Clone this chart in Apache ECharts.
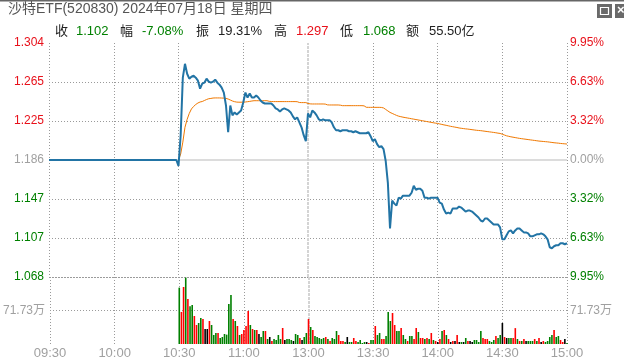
<!DOCTYPE html>
<html><head><meta charset="utf-8">
<script src="https://cdn.jsdelivr.net/npm/echarts@6/dist/echarts.min.js"></script>
<style>html,body{margin:0;padding:0;background:#fff}#c{width:624px;height:362px}</style>
</head><body><div id="c"></div>
<script>
// ---------------- data ----------------
const preClose = 1.186;
const limitPct = 9.95;
const volMax = 143.46;      // 万
const volMid = 71.73;       // 万
const sessionAMStart = '09:30', sessionPMStart = '13:00';
const timeLabels = ['09:30','10:00','10:30','11:00','13:00','13:30','14:00','14:30','15:00'];

// minute prices 09:30 - 11:29 (trading halted until 10:30)
const priceAM = [
 1.186,1.186,1.186,1.186,1.186,1.186,1.186,1.186,1.186,1.186,
 1.186,1.186,1.186,1.186,1.186,1.186,1.186,1.186,1.186,1.186,
 1.186,1.186,1.186,1.186,1.186,1.186,1.186,1.186,1.186,1.186,
 1.186,1.186,1.186,1.186,1.186,1.186,1.186,1.186,1.186,1.186,
 1.186,1.186,1.186,1.186,1.186,1.186,1.186,1.186,1.186,1.186,
 1.186,1.186,1.186,1.186,1.186,1.186,1.186,1.186,1.186,1.186,
 1.180,1.211,1.269,1.283,1.273,1.268,1.270,1.271,1.269,1.266,
 1.258,1.263,1.264,1.268,1.265,1.264,1.265,1.267,1.264,1.262,
 1.259,1.254,1.241,1.214,1.241,1.231,1.234,1.232,1.234,1.236,
 1.244,1.254,1.249,1.253,1.249,1.249,1.251,1.249,1.246,1.244,
 1.243,1.243,1.243,1.243,1.241,1.238,1.237,1.235,1.237,1.238,
 1.237,1.236,1.234,1.230,1.227,1.229,1.224,1.219,1.211,1.205
];
// minute prices 13:00 - 15:00
const pricePM = [
 1.233,1.229,1.236,1.234,1.231,1.227,1.226,1.227,1.226,1.226,
 1.226,1.224,1.219,1.216,1.216,1.215,1.216,1.216,1.216,1.215,
 1.215,1.214,1.215,1.214,1.213,1.213,1.213,1.213,1.214,1.210,
 1.205,1.207,1.202,1.199,1.200,1.197,1.185,1.163,1.117,1.145,
 1.142,1.140,1.148,1.147,1.150,1.150,1.150,1.150,1.153,1.160,
 1.156,1.157,1.157,1.155,1.148,1.148,1.147,1.148,1.148,1.148,
 1.148,1.143,1.142,1.136,1.132,1.133,1.132,1.137,1.137,1.137,
 1.139,1.138,1.136,1.134,1.135,1.135,1.134,1.132,1.130,1.128,
 1.125,1.124,1.127,1.127,1.125,1.123,1.121,1.121,1.121,1.118,
 1.106,1.106,1.110,1.114,1.115,1.112,1.115,1.117,1.117,1.115,
 1.113,1.113,1.112,1.109,1.109,1.110,1.111,1.111,1.112,1.111,
 1.109,1.106,1.098,1.097,1.099,1.100,1.100,1.102,1.102,1.101,
 1.102
];
// average price line from 10:30 to 15:00
const avgPrice = [
 1.1860,1.1920,1.2040,1.2190,1.2270,1.2330,1.2375,1.2400,1.2420,1.2435,
 1.2445,1.2450,1.2460,1.2470,1.2478,1.2481,1.2485,1.2486,1.2486,1.2486,
 1.2485,1.2484,1.2481,1.2475,1.2465,1.2455,1.2448,1.2444,1.2443,1.2443,
 1.2443,1.2445,1.2448,1.2451,1.2455,1.2458,1.2458,1.2458,1.2458,1.2458,
 1.2458,1.2458,1.2452,1.2450,1.2449,1.2449,1.2449,1.2449,1.2449,1.2449,
 1.2449,1.2449,1.2449,1.2449,1.2449,1.2448,1.2440,1.2439,1.2439,1.2439,
 1.2430,1.2426,1.2425,1.2425,1.2425,1.2425,1.2425,1.2425,1.2424,1.2416,
 1.2415,1.2415,1.2415,1.2415,1.2415,1.2413,1.2408,1.2408,1.2408,1.2408,
 1.2408,1.2408,1.2408,1.2408,1.2408,1.2408,1.2406,1.2392,1.2391,1.2391,
 1.2391,1.2391,1.2391,1.2391,1.2390,1.2385,1.2370,1.2355,1.2340,1.2330,
 1.2320,1.2310,1.2302,1.2297,1.2292,1.2288,1.2284,1.2280,1.2276,1.2272,
 1.2268,1.2264,1.2260,1.2256,1.2252,1.2248,1.2244,1.2240,1.2236,1.2232,
 1.2229,1.2224,1.2219,1.2214,1.2210,1.2205,1.2200,1.2196,1.2192,1.2188,
 1.2183,1.2180,1.2177,1.2174,1.2172,1.2169,1.2166,1.2163,1.2160,1.2158,
 1.2156,1.2153,1.2150,1.2147,1.2144,1.2141,1.2138,1.2135,1.2131,1.2128,
 1.2120,1.2112,1.2104,1.2099,1.2094,1.2090,1.2086,1.2082,1.2078,1.2075,
 1.2072,1.2069,1.2066,1.2063,1.2060,1.2057,1.2054,1.2051,1.2049,1.2047,
 1.2045,1.2043,1.2040,1.2037,1.2034,1.2032,1.2030,1.2027,1.2025,1.2023,
 1.2021
];
// minute volume (万) from 10:30 to 15:00
const volume = [
 120.7,68.5,122.1,142.1,96.4,80.7,83.5,60.0,40.7,45.0,
 55.7,53.6,32.1,32.1,49.3,40.7,19.3,23.6,23.6,12.9,
 15.0,21.4,20.0,85.7,105.0,53.6,49.3,38.6,19.3,21.4,
 30.0,38.6,70.7,40.7,32.1,30.0,30.0,21.4,15.0,27.8,
 27.8,10.7,15.0,6.4,10.7,8.6,19.3,10.7,34.3,8.6,
 10.7,10.7,8.6,6.4,21.4,19.3,12.9,8.6,15.0,23.6,
 53.6,36.4,30.0,17.1,15.0,12.9,10.7,12.9,15.0,10.7,
 6.4,12.9,10.7,27.8,19.3,6.4,6.4,4.3,15.0,4.3,
 4.3,12.9,6.4,4.3,8.6,2.1,4.3,4.3,2.1,8.6,
 8.6,38.6,19.3,23.6,10.7,10.7,17.1,68.5,49.3,66.4,
 40.7,27.8,27.8,34.3,19.3,10.7,6.4,17.1,17.1,10.7,
 34.3,25.7,12.9,12.9,10.7,12.9,10.7,23.6,8.6,6.4,
 4.3,10.7,27.8,30.0,19.3,10.7,4.3,6.4,6.4,19.3,
 4.3,4.3,4.3,12.9,6.4,6.4,4.3,8.6,8.6,4.3,
 27.8,12.9,10.7,10.7,6.4,4.3,8.6,17.1,12.9,19.3,
 45.0,15.0,12.9,12.9,12.9,12.9,34.0,10.7,6.4,6.4,
 10.7,6.4,6.4,6.4,6.4,10.7,6.4,12.9,4.3,6.4,
 4.3,6.4,15.0,19.3,30.0,15.0,17.1,8.6,4.3,10.7,
 2.1
];
// bar direction: 1 up, -1 down, 0 flat
const volDir = [
 -1,1,1,-1,1,-1,-1,1,1,-1,
 -1,1,0,0,1,-1,-1,-1,1,-1,
 -1,-1,-1,-1,-1,1,-1,1,-1,1,
 1,1,1,-1,1,-1,1,0,-1,-1,
 1,-1,0,1,-1,-1,-1,-1,1,0,
 -1,-1,-1,0,-1,-1,1,0,-1,-1,
 1,-1,1,-1,-1,-1,-1,-1,1,-1,
 1,-1,-1,-1,1,1,1,-1,0,-1,
 -1,1,1,-1,-1,-1,-1,0,1,-1,
 -1,1,-1,-1,1,1,-1,-1,-1,1,
 1,-1,-1,1,-1,-1,1,-1,-1,1,
 1,-1,1,1,-1,1,-1,1,-1,1,
 0,1,-1,1,-1,1,0,1,0,1,
 0,-1,0,-1,1,0,0,-1,-1,-1,
 -1,1,1,1,-1,-1,-1,1,-1,-1,
 0,1,0,-1,-1,1,1,-1,1,-1,
 1,0,-1,-1,-1,1,-1,1,0,1,
 -1,-1,-1,-1,1,-1,-1,1,1,0,
 -1
];

// ---------------- build ----------------
function buildTimes(start, count) {
  const [h, m] = start.split(':').map(Number);
  const out = [];
  for (let i = 0; i < count; i++) {
    const t = h * 60 + m + i;
    out.push(String(Math.floor(t / 60)).padStart(2, '0') + ':' + String(t % 60).padStart(2, '0'));
  }
  return out;
}
const cats = buildTimes(sessionAMStart, priceAM.length).concat(buildTimes(sessionPMStart, pricePM.length));
const prices = priceAM.concat(pricePM);
const lead = cats.length - avgPrice.length;
const step = preClose * limitPct / 100 / 3;
const toY = p => (p == null ? null : (p - preClose) / step);
const priceData = prices.map(toY);
const avgData = new Array(lead).fill(null).concat(avgPrice.map(toY));
const dirColor = {'1': '#ff0000', '-1': '#008000', '0': '#000000'};
const volData = new Array(lead).fill(null).concat(volume.map((v, i) => ({ value: v, itemStyle: { color: dirColor[String(volDir[i])] } })));
const isTimeLabel = (i) => timeLabels.indexOf(cats[i]) >= 0;
const isSplit = (i) => isTimeLabel(i) && cats[i] !== '13:00';

const FONT = "'Liberation Sans','Noto Sans CJK SC',sans-serif";
const GRID_L = 49, GRID_R = 57;
const dotted = { color: '#9a9a9a', type: [1, 2], width: 1 };
const upC = '#e8101a', dnC = '#008000', flatC = '#a0a0a0';
const signColor = v => (v > 1e-9 ? upC : (v < -1e-9 ? dnC : flatC));

const chart = echarts.init(document.getElementById('c'), null, { renderer: 'canvas' });

const infoItems = [
  { t: '收', x: 55, c: '#222' }, { t: '1.102', x: 76, c: dnC },
  { t: '幅', x: 120, c: '#222' }, { t: '-7.08%', x: 142, c: dnC },
  { t: '振', x: 196, c: '#222' }, { t: '19.31%', x: 218, c: '#222' },
  { t: '高', x: 274, c: '#222' }, { t: '1.297', x: 296, c: upC },
  { t: '低', x: 340, c: '#222' }, { t: '1.068', x: 363, c: dnC },
  { t: '额', x: 406, c: '#222' }, { t: '55.50亿', x: 429, c: '#222' }
];

const graphics = [
  { type: 'rect', shape: { x: 0, y: 0, width: 624, height: 1.5 }, style: { fill: '#666' }, silent: true },
  { type: 'text', left: 8, top: 2, style: { text: '沙特ETF(520830) 2024年07月18日 星期四', font: '14px ' + FONT, fill: '#555' } },
  { type: 'rect', shape: { x: 597, y: 4, width: 15, height: 14 }, style: { fill: '#6a6a6a' } },
  { type: 'rect', shape: { x: 600.5, y: 7.5, width: 8, height: 7 }, style: { fill: 'none', stroke: '#fff', lineWidth: 1.2 } },
  { type: 'rect', shape: { x: 615, y: 4, width: 12, height: 14 }, style: { fill: '#6a6a6a' } },
  { type: 'text', x: 617, y: 4, style: { text: '×', font: 'bold 13px ' + FONT, fill: '#fff' } }
].concat(infoItems.map(it => ({
  type: 'text', x: it.x, y: 25, style: { text: it.t, font: '13px ' + FONT, fill: it.c }
})));

const option = {
  animation: false,
  backgroundColor: '#fff',
  textStyle: { fontFamily: FONT },
  graphic: graphics,
  grid: [
    { left: GRID_L, right: GRID_R, top: 43, height: 234 },
    { left: GRID_L, right: GRID_R, top: 277, height: 67 }
  ],
  xAxis: [
    { type: 'category', gridIndex: 0, data: cats, boundaryGap: false,
      axisLine: { show: false }, axisTick: { show: false }, axisLabel: { show: false },
      splitLine: { show: true, interval: (i) => isSplit(i), lineStyle: dotted } },
    { type: 'category', gridIndex: 1, data: cats, boundaryGap: false,
      axisLine: { show: false }, axisTick: { show: false },
      axisLabel: { show: true, interval: (i) => isTimeLabel(i), color: '#a0a0a0', fontSize: 13, margin: 3, fontFamily: FONT },
      splitLine: { show: true, interval: (i) => isSplit(i), lineStyle: dotted } }
  ],
  yAxis: [
    { type: 'value', gridIndex: 0, min: -3, max: 3, interval: 1,
      axisLine: { show: false }, axisTick: { show: false },
      axisLabel: { fontSize: 12, margin: 5, fontFamily: FONT,
        formatter: v => (preClose + v * step).toFixed(3), color: v => signColor(v) },
      splitLine: { show: true, showMaxLine: false, lineStyle: dotted } },
    { type: 'value', gridIndex: 0, position: 'right', min: -3, max: 3, interval: 1,
      axisLine: { show: false }, axisTick: { show: false },
      axisLabel: { fontSize: 12, margin: 3, fontFamily: FONT,
        formatter: v => (Math.abs(v) * limitPct / 3).toFixed(2) + '%', color: v => signColor(v) },
      splitLine: { show: false } },
    { type: 'value', gridIndex: 1, min: 0, max: volMax, interval: volMid,
      axisLine: { show: false }, axisTick: { show: false },
      axisLabel: { fontSize: 12, margin: 5, color: '#a0a0a0', showMinLabel: false, showMaxLabel: false, fontFamily: FONT,
        formatter: v => v.toFixed(2) + '万' },
      splitLine: { show: true, showMinLine: false, lineStyle: dotted } },
    { type: 'value', gridIndex: 1, position: 'right', min: 0, max: volMax, interval: volMid,
      axisLine: { show: false }, axisTick: { show: false },
      axisLabel: { fontSize: 12, margin: 3, color: '#a0a0a0', showMinLabel: false, showMaxLabel: false, fontFamily: FONT,
        formatter: v => v.toFixed(2) + '万' },
      splitLine: { show: false } }
  ],
  series: [
    { type: 'line', xAxisIndex: 0, yAxisIndex: 0, data: [], z: 1, silent: true,
      markLine: { silent: true, symbol: 'none', z: 1, label: { show: false }, animation: false,
        data: [
          { yAxis: 0, lineStyle: { color: '#dcdcdc', type: 'solid', width: 2 } },
          { xAxis: '13:00', lineStyle: { color: '#d4d4d4', type: [3, 1], width: 2 } }
        ] } },
    { type: 'line', xAxisIndex: 0, yAxisIndex: 0, data: avgData, showSymbol: false, z: 2,
      lineStyle: { color: '#f07800', width: 1 }, connectNulls: false },
    { type: 'line', xAxisIndex: 0, yAxisIndex: 0, data: priceData, showSymbol: false, z: 3,
      lineStyle: { color: '#2274a5', width: 2 } },
    { type: 'bar', xAxisIndex: 1, yAxisIndex: 2, data: volData, barWidth: 1.6, clip: false, z: 2,
      markLine: { silent: true, symbol: 'none', z: 1, label: { show: false }, animation: false,
        data: [{ xAxis: '13:00', lineStyle: { color: '#d4d4d4', type: [3, 1], width: 2 } }] } }
  ]
};
chart.setOption(option);
</script>
</body></html>
